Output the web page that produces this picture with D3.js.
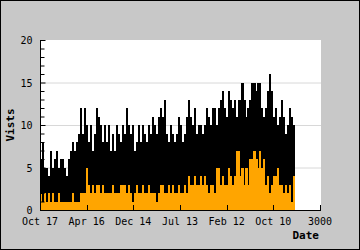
<!DOCTYPE html>
<html>
<head>
<meta charset="utf-8">
<script src="https://cdn.jsdelivr.net/npm/d3@7"></script>
<style>
  body { margin: 0; background: #c8c8c8; }
  svg { display: block; }
  text { font-family: "DejaVu Sans Mono", monospace; }
</style>
</head>
<body>
<div id="container"></div>
<script>
// visits per bin (max in each ~21 day bin)
const visits = [6,8,5,5,4,7,5,6,7,5,6,6,5,4,6,7,8,7,8,9,
  12,9,12,10,8,10,7,9,12,11,10,8,10,8,10,7,9,7,10,9,
  8,10,9,12,10,9,10,7,8,10,8,10,9,8,10,9,11,10,9,11,
  12,11,13,9,8,10,9,8,9,11,10,8,9,11,13,11,10,12,9,10,
  10,9,10,12,11,10,12,12,10,12,13,14,12,11,14,13,12,13,11,13,
  13,15,13,11,12,13,15,15,14,15,15,12,11,12,14,16,14,11,12,10,
  11,13,11,9,10,12,11,10];
// second series (orange)
const other = [2,1,2,1,2,1,2,1,1,2,1,1,1,1,1,1,2,1,1,1,
  2,2,2,5,3,2,3,2,3,3,2,3,2,2,2,2,3,2,2,2,
  3,3,3,2,3,2,1,2,3,2,2,3,2,2,3,2,2,2,1,2,
  3,3,2,2,3,2,3,2,2,3,2,2,3,2,4,3,3,4,3,3,
  4,3,4,3,2,3,3,2,5,5,3,4,3,3,5,4,3,4,7,7,
  4,5,3,5,3,6,6,7,6,5,7,5,6,3,4,2,3,4,4,5,
  3,3,2,3,2,3,1,4];
const xTicks = [0, 500, 1000, 1500, 2000, 2500, 3000];
const xTickLabels = ["Oct 17", "Apr 16", "Dec 14", "Jul 13", "Feb 12", "Oct 10", "3000"];
const binDays = 21.375;

const W = 360, H = 250;
const svg = d3.select("#container").append("svg")
  .attr("width", W).attr("height", H);

svg.append("rect")
  .attr("x", 0.5).attr("y", 0.5)
  .attr("width", W - 1).attr("height", H - 1)
  .attr("fill", "#c8c8c8").attr("stroke", "#000");

const x = d3.scaleLinear().domain([0, 3000]).range([40, 320]);
const y = d3.scaleLinear().domain([0, 20]).range([210, 40]);

svg.append("rect")
  .attr("x", 40).attr("y", 40)
  .attr("width", 281).attr("height", 170)
  .attr("fill", "#fff");

// grid
svg.append("g").selectAll("line")
  .data([5, 10, 15])
  .join("line")
  .attr("x1", 40).attr("x2", 321)
  .attr("y1", d => y(d) + 0.5).attr("y2", d => y(d) + 0.5)
  .attr("stroke", "#d8d8d8");

const bw = x(binDays) - x(0);
const bars = svg.append("g").attr("shape-rendering", "crispEdges");
bars.selectAll("rect.v")
  .data(visits)
  .join("rect")
  .attr("class", "v")
  .attr("x", (d, i) => x(i * binDays))
  .attr("width", bw + 0.05)
  .attr("y", d => y(d))
  .attr("height", d => y(0) - y(d))
  .attr("fill", "#000");
bars.selectAll("rect.o")
  .data(other)
  .join("rect")
  .attr("class", "o")
  .attr("x", (d, i) => x(i * binDays))
  .attr("width", bw + 0.05)
  .attr("y", d => y(d))
  .attr("height", d => y(0) - y(d))
  .attr("fill", "#ffa500");

// y axis, ticks pointing inward
const yAxis = svg.append("g").attr("transform", "translate(40.5,0)");
yAxis.append("line").attr("y1", 40).attr("y2", 210).attr("stroke", "#000");
yAxis.selectAll("line.t")
  .data(d3.range(0, 21))
  .join("line")
  .attr("class", "t")
  .attr("x1", 0).attr("x2", d => d % 5 == 0 ? 5 : 4)
  .attr("y1", d => y(d) + 0.5).attr("y2", d => y(d) + 0.5)
  .attr("stroke", "#000");
yAxis.selectAll("text")
  .data([0, 5, 10, 15, 20])
  .join("text")
  .attr("x", -8)
  .attr("y", d => y(d) + 4)
  .attr("text-anchor", "end")
  .attr("font-size", 10)
  .text(d => d);

// x axis, ticks pointing up
const xAxis = svg.append("g");
xAxis.append("line")
  .attr("x1", 40).attr("x2", 321)
  .attr("y1", 210.5).attr("y2", 210.5)
  .attr("stroke", "#000");
xAxis.selectAll("line.t")
  .data(xTicks)
  .join("line")
  .attr("class", "t")
  .attr("x1", d => Math.round(x(d)) + 0.5).attr("x2", d => Math.round(x(d)) + 0.5)
  .attr("y1", 210).attr("y2", 205)
  .attr("stroke", "#000");
xAxis.selectAll("text")
  .data(xTicks)
  .join("text")
  .attr("x", d => x(d))
  .attr("y", 225)
  .attr("text-anchor", "middle")
  .attr("font-size", 10)
  .text((d, i) => xTickLabels[i]);

svg.append("text")
  .attr("x", 319).attr("y", 239)
  .attr("text-anchor", "end")
  .attr("font-size", 11).attr("font-weight", "bold")
  .text("Date");

svg.append("text")
  .attr("transform", "translate(14,125) rotate(-90)")
  .attr("text-anchor", "middle")
  .attr("font-size", 11).attr("font-weight", "bold")
  .text("Vists");
</script>
</body>
</html>
